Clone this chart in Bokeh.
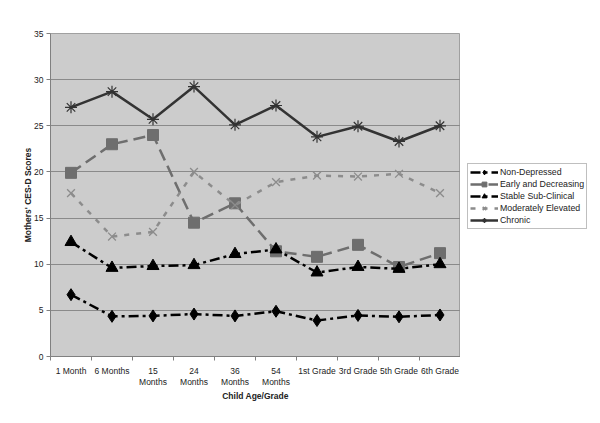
from bokeh.plotting import figure
from bokeh.models import FixedTicker, Legend, LegendItem, Range1d
from bokeh.layouts import row
from bokeh.embed import file_html
from bokeh.resources import INLINE

categories = ["1 Month", "6 Months", "15\nMonths", "24\nMonths", "36\nMonths", "54\nMonths",
              "1st Grade", "3rd Grade", "5th Grade", "6th Grade"]
non_depressed = [6.7, 4.35, 4.4, 4.6, 4.4, 4.9, 3.9, 4.45, 4.3, 4.5]
early_decreasing = [19.9, 23.0, 24.0, 14.5, 16.6, 11.4, 10.8, 12.1, 9.7, 11.2]
stable_subclinical = [12.4, 9.6, 9.8, 9.9, 11.1, 11.6, 9.1, 9.7, 9.5, 10.0]
moderately_elevated = [17.7, 13.0, 13.5, 20.0, 16.4, 18.9, 19.6, 19.5, 19.8, 17.7]
chronic = [27.0, 28.7, 25.7, 29.25, 25.1, 27.2, 23.8, 24.95, 23.3, 25.0]
series_names = ["Non-Depressed", "Early and Decreasing", "Stable Sub-Clinical",
                "Moderately Elevated", "Chronic"]
y_ticks = [0, 5, 10, 15, 20, 25, 30, 35]

x = list(range(1, len(categories) + 1))

p = figure(width=460, height=420, output_backend="svg", toolbar_location=None,
           x_range=Range1d(0.5, 10.5), y_range=Range1d(0, 35),
           min_border_left=50, min_border_right=0, min_border_top=33, min_border_bottom=64)
p.background_fill_color = "#cccccc"
p.border_fill_color = "white"
p.outline_line_color = "#a0a0a0"
p.outline_line_width = 1

FONT = "Liberation Sans"
p.xaxis.ticker = FixedTicker(ticks=x, minor_ticks=[i + 0.5 for i in range(0, 11)])
p.xaxis.major_label_overrides = {i + 1: c for i, c in enumerate(categories)}
p.xaxis.major_tick_out = 0
p.xaxis.major_tick_in = 0
p.xaxis.minor_tick_out = 4
p.xaxis.minor_tick_in = 0
p.xaxis.minor_tick_line_color = "#808080"
p.yaxis.ticker = FixedTicker(ticks=y_ticks)
p.yaxis.major_tick_out = 4
p.yaxis.major_tick_in = 0
p.yaxis.minor_tick_line_color = None
for ax in (p.xaxis, p.yaxis):
    ax.axis_line_color = "#808080"
    ax.major_tick_line_color = "#808080"
    ax.major_label_text_font = FONT
    ax.major_label_text_font_size = "8.5px"
    ax.major_label_text_color = "#222222"
    ax.axis_label_text_font = FONT
    ax.axis_label_text_font_size = "8.5px"
    ax.axis_label_text_font_style = "bold"
    ax.axis_label_text_color = "#222222"
p.xaxis.axis_label = "Child Age/Grade"
p.yaxis.axis_label = "Mothers' CES-D Scores"
p.xaxis.major_label_standoff = 5
p.xaxis.major_label_text_line_height = 1.1
p.xaxis.axis_label_standoff = 1
p.yaxis.major_label_standoff = 3
p.yaxis.axis_label_standoff = -2

p.xgrid.grid_line_color = None
p.ygrid.ticker = FixedTicker(ticks=y_ticks)
p.ygrid.grid_line_color = "#8a8a8a"
p.ygrid.grid_line_width = 1

styles = [
    dict(line=dict(line_color="black", line_dash="10 4 3 4"),
         marker=dict(marker="diamond", size=12, color="black")),
    dict(line=dict(line_color="#6e6e6e", line_dash="12 6"),
         marker=dict(marker="square", size=11, color="#6e6e6e")),
    dict(line=dict(line_color="black", line_dash="10 4 3 4"),
         marker=dict(marker="triangle", size=12, color="black")),
    dict(line=dict(line_color="#8c8c8c", line_dash="5 7"),
         marker=dict(marker="x", size=11, line_color="#8c8c8c", line_width=1.3)),
    dict(line=dict(line_color="#333333"),
         marker=dict(marker="asterisk", size=12, line_color="#333333", line_width=1.2)),
]
series = [non_depressed, early_decreasing, stable_subclinical, moderately_elevated, chronic]
lw = 2.5
for vals, st in zip(series, styles):
    p.line(x, vals, line_width=lw, **st["line"])
    p.scatter(x, vals, **st["marker"])

# legend panel: same series drawn off-range (hidden), used only for legend glyphs
lg = figure(width=138, height=420, output_backend="svg", toolbar_location=None,
            x_range=Range1d(100, 101), y_range=Range1d(100, 101),
            x_axis_location=None, y_axis_location=None,
            min_border_left=0, min_border_right=0, min_border_top=0, min_border_bottom=0)
lg.outline_line_color = None
lg.xgrid.grid_line_color = None
lg.ygrid.grid_line_color = None
items = []
for name, vals, st in zip(series_names, series, styles):
    rl = lg.line(x, vals, line_width=lw, **st["line"])
    mk = dict(st["marker"])
    mk["size"] = 7
    rm = lg.scatter(x, vals, **mk)
    items.append(LegendItem(label=name, renderers=[rl, rm]))

legend = Legend(items=items, location=(7, 127))
legend.label_text_font = FONT
legend.label_text_font_size = "8.8px"
legend.label_text_color = "#222222"
legend.label_height = 12
legend.glyph_height = 12
legend.glyph_width = 28
legend.spacing = 0
legend.padding = 2
legend.margin = 0
legend.label_standoff = 2
legend.border_line_color = "#808080"
legend.border_line_width = 1
legend.background_fill_color = "white"
legend.background_fill_alpha = 1
lg.add_layout(legend, "center")

layout = row(p, lg)
open("out.html", "w").write(file_html(layout, INLINE))
